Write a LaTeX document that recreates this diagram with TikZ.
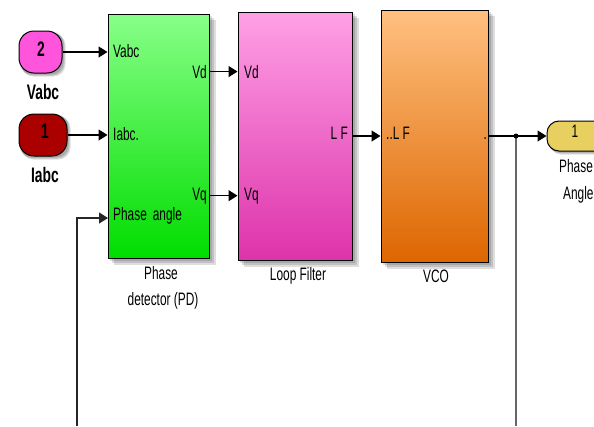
\documentclass[tikz,border=0pt]{standalone}
\usepackage{fontspec}
\setmainfont[FakeStretch=0.66]{Liberation Sans}
\usetikzlibrary{arrows.meta,backgrounds}
\definecolor{pdtop}{RGB}{136,255,136}
\definecolor{pdbot}{RGB}{0,221,0}
\definecolor{lftop}{RGB}{255,160,230}
\definecolor{lfbot}{RGB}{221,51,170}
\definecolor{vcotop}{RGB}{255,192,128}
\definecolor{vcobot}{RGB}{221,102,0}
\definecolor{vabcfill}{RGB}{255,85,221}
\definecolor{iabcfill}{RGB}{170,0,0}
\definecolor{angfill}{RGB}{232,208,96}

\begin{document}
\begin{tikzpicture}[x=1pt,y=1pt,yscale=-1,
  blk/.style={draw=black, line width=1pt, inner sep=0pt},
  port/.style={draw=black, line width=1pt, inner sep=0pt},
  shadowbox/.style={fill=black, opacity=0.13},
  sig/.style={line width=1.2pt, -{Triangle[length=9pt,width=11pt]}},
  lbl/.style={inner sep=0pt, font=\fontsize{18}{22}\selectfont},
  plbl/.style={inner sep=0pt, font=\fontsize{21}{24}\selectfont\bfseries}]
\clip (0,0) rectangle (594,426);

% blocks
\node[blk, top color=pdtop, bottom color=pdbot, minimum width=101, minimum height=244] (pd) at (158.5,136) {};
\node[blk, top color=lftop, bottom color=lfbot, minimum width=114, minimum height=248] (lf) at (295,136) {};
\node[blk, top color=vcotop, bottom color=vcobot, minimum width=107, minimum height=252] (vco) at (434.5,136) {};

% in and out ports
\node[port, fill=vabcfill, minimum width=43, minimum height=42, rounded corners=15pt] (vabc) at (40.5,52) {};
\node[port, fill=iabcfill, minimum width=48, minimum height=42, rounded corners=15pt] (iabc) at (43,135) {};
\node[port, fill=angfill, minimum width=66, minimum height=30, rounded corners=12pt] (ang) at (580,136) {};
\node[plbl, anchor=base] (vabcnum) at (41,56) {2};
\node[plbl, anchor=base] (iabcnum) at (45,138) {1};
\node[lbl, anchor=base] (angnum) at (575,137) {1};
\node[plbl, anchor=base] (vabcname) at (43,99) {Vabc};
\node[plbl, anchor=base] (iabcname) at (45,182) {Iabc};
\node[lbl, anchor=base west] (angname1) at (559,172) {Phase};
\node[lbl, anchor=base west] (angname2) at (563,199) {Angle};

% soft shadows behind blocks and ports
\begin{pgfonlayer}{background}
  \foreach \b in {pd,lf,vco}
    \foreach \s in {2,4,6}
      \fill[shadowbox] ([shift={(\s,\s)}]\b.north west) rectangle ([shift={(\s,\s)}]\b.south east);
  \foreach \b in {vabc,iabc,ang}
    \foreach \s in {1,2,3}
      \fill[shadowbox, rounded corners=12pt] ([shift={(\s,\s)}]\b.north west) rectangle ([shift={(\s,\s)}]\b.south east);
\end{pgfonlayer}

% texts inside the blocks
\node[lbl, anchor=base west] (pdvabc) at (113,57) {Vabc};
\node[lbl, anchor=base west] (pdiabc) at (113,140) {Iabc.};
\node[lbl, anchor=base west] (pdang) at (113,220) {Phase\hspace{6pt}angle};
\node[lbl, anchor=base east] (pdvd) at (207,78) {Vd};
\node[lbl, anchor=base east] (pdvq) at (207,200) {Vq};
\node[lbl, anchor=base west] (lfvd) at (244,78) {Vd};
\node[lbl, anchor=base west] (lfvq) at (244,200) {Vq};
\node[lbl, anchor=base east] (lfout) at (348,139) {L F};
\node[lbl, anchor=base west] (vcoin) at (386,139) {..L F};
\node[lbl, anchor=base east] (vcoout) at (487,139) {.};

% captions
\node[lbl, anchor=base] (pdcap1) at (161,279) {Phase};
\node[lbl, anchor=base] (pdcap2) at (163,305) {detector (PD)};
\node[lbl, anchor=base] (lfcap) at (298,280) {Loop Filter};
\node[lbl, anchor=base] (vcocap) at (436,282) {VCO};

% signal lines
\coordinate (tap) at (516,136);
\coordinate (tapend) at (516,426);
\coordinate (fbend) at (77,426);
\coordinate (angin) at (108,218);
\draw[sig] (vabc.east) -- (vabc.east -| pd.west);
\draw[sig] (iabc.east) -- (iabc.east -| pd.west);
\draw[sig] (pd.east |- pdvd.east) -- (lf.west |- pdvd.east);
\draw[sig] (pd.east |- pdvq.east) -- (lf.west |- pdvq.east);
\draw[sig] (lf.east) -- (vco.west);
\draw[sig] (vco.east) -- (ang.west);
\draw[line width=1.2pt, black!60] (tap) -- (tapend);
\fill (tap) circle (2.5);
\draw[sig, black!85] (fbend) |- (angin);

\end{tikzpicture}
\end{document}
